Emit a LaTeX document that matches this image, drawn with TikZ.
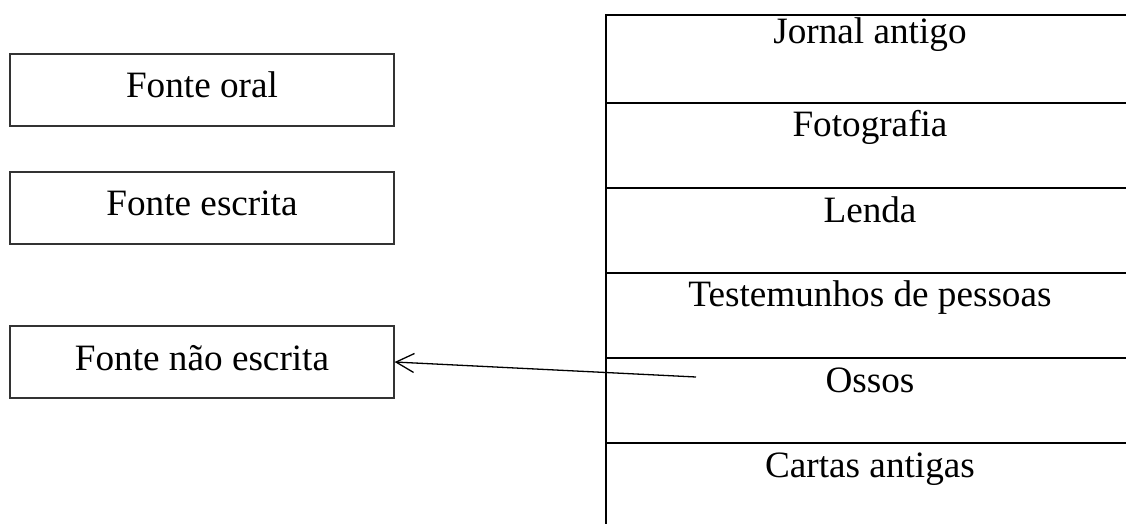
\documentclass[tikz,border=0pt]{standalone}
\usepackage{fontspec}
\setmainfont{Liberation Serif}
\usetikzlibrary{arrows.meta,positioning}

\begin{document}
\begin{tikzpicture}[
  x=0.5pt, y=-0.5pt,
  node distance=0pt,
  box/.style={draw=black!80, line width=0.65pt, minimum width=192pt, minimum height=36pt, inner sep=0pt, text height=14pt, text depth=6pt, font=\fontsize{18.6}{22.3}\selectfont},
  cell/.style={draw, line width=1pt, outer sep=0pt, minimum width=264pt, inner sep=0pt, text height=17pt, text depth=25.5pt, font=\fontsize{18.6}{22.3}\selectfont},
  arrow/.style={-{Straight Barb[length=9pt, width=9.5pt]}, line width=0.65pt}
]
\clip (0,0) rectangle (1126,524);
% kinds of sources
\node[box] (oral) at (202,90) {Fonte oral};
\node[box] (escrita) at (202,208) {Fonte escrita};
\node[box] (naoescrita) at (202,362) {Fonte não escrita};
% examples column
\node[cell, anchor=north, text height=14.4pt, text depth=29.75pt] (jornal) at (870,14.7) {Jornal antigo};
\node[cell, below=of jornal] (foto) {Fotografia};
\node[cell, below=of foto] (lenda) {Lenda};
\node[cell, below=of lenda] (testemunhos) {Testemunhos de pessoas};
\node[cell, below=of testemunhos] (ossos) {Ossos};
\node[cell, below=of ossos] (cartas) {Cartas antigas};
\coordinate (tail) at (696,377);
\draw[arrow] (tail) -- (naoescrita.east);
\end{tikzpicture}
\end{document}
